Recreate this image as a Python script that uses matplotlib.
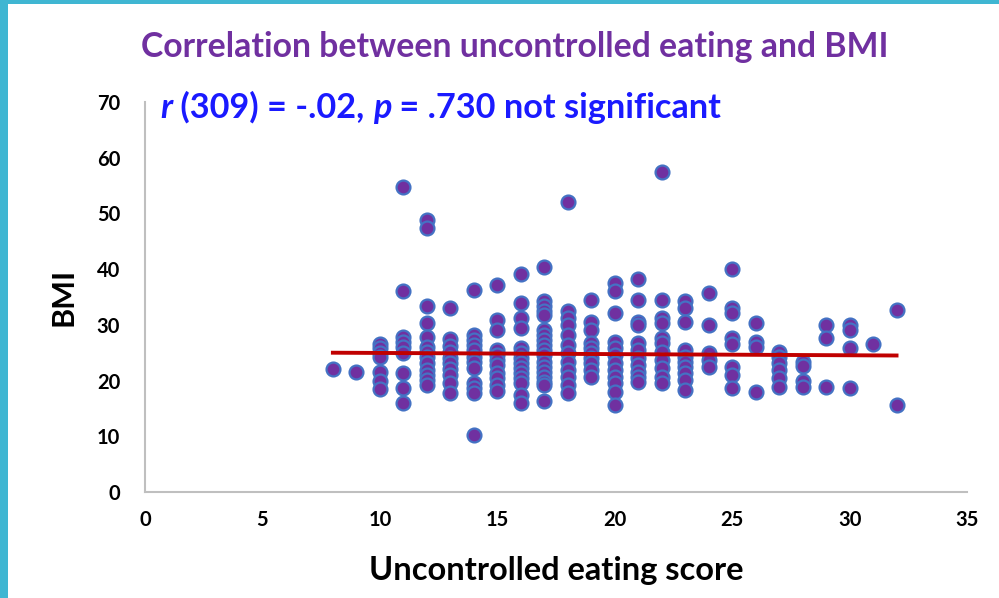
import matplotlib.pyplot as plt
from matplotlib.patches import Rectangle

plt.rcParams['font.family'] = ['Lato', 'DejaVu Sans']

# uncontrolled eating score (x) and the BMI values read for each score
scores = [8, 9, 10, 11, 12, 13, 14, 15, 16, 17, 18, 19, 20,
          21, 22, 23, 24, 25, 26, 27, 28, 29, 30, 31, 32]
bmi = [
    [22.0],
    [21.5],
    [26.5, 25.8, 25.0, 24.2, 21.5, 20.0, 18.5],
    [54.7, 36.0, 27.8, 27.0, 26.0, 25.0, 21.4, 18.7, 16.0],
    [48.8, 47.4, 33.4, 30.4, 27.8, 26.0, 25.2, 24.3, 23.1, 21.9, 21.0, 20.1, 19.2],
    [33.0, 27.4, 26.2, 25.2, 24.0, 23.1, 22.0, 21.0, 19.5, 17.8],
    [36.3, 28.2, 27.3, 26.4, 25.5, 24.3, 23.4, 22.2, 19.5, 18.6, 17.7, 10.2],
    [37.2, 30.9, 29.1, 25.5, 24.6, 23.7, 22.8, 21.3, 20.4, 19.2, 18.2],
    [39.1, 34.0, 31.2, 29.4, 25.8, 24.9, 24.0, 23.1, 22.2, 21.3, 20.4, 19.5, 17.4, 15.9],
    [40.4, 34.2, 33.3, 32.4, 31.8, 29.1, 28.2, 27.3, 26.4, 25.5, 24.6, 23.4,
     22.5, 21.6, 20.7, 19.8, 19.2, 16.4],
    [52.0, 32.4, 31.2, 30.0, 28.2, 26.4, 24.9, 23.4, 21.9, 20.7, 19.2, 17.7],
    [34.5, 30.6, 29.1, 26.7, 25.8, 24.9, 24.0, 23.1, 21.9, 20.7],
    [37.5, 36.0, 32.1, 27.0, 25.8, 24.6, 23.1, 21.9, 20.7, 19.5, 18.0, 15.6],
    [38.2, 34.5, 30.6, 30.0, 26.7, 25.5, 24.0, 22.8, 21.6, 20.7, 19.8],
    [57.4, 34.5, 31.2, 30.3, 27.6, 26.7, 25.2, 23.7, 22.2, 20.7, 19.5],
    [34.2, 33.0, 30.6, 25.5, 24.3, 23.4, 22.5, 21.3, 20.1, 18.3],
    [35.8, 30.0, 24.9, 23.7, 22.5],
    [40.0, 33.0, 32.1, 27.7, 26.5, 22.5, 21.0, 18.6],
    [30.3, 27.0, 26.1, 17.9],
    [25.2, 24.3, 23.1, 21.9, 20.4, 18.9],
    [23.3, 22.6, 20.0, 18.8],
    [29.9, 27.6, 18.8],
    [30.0, 29.0, 25.9, 18.6],
    [26.5],
    [32.7, 15.6],
]

# linear trend line endpoints
trend_x = [8, 32]
trend_y = [25.0, 24.5]

x_ticks = [0, 5, 10, 15, 20, 25, 30, 35]
y_ticks = [0, 10, 20, 30, 40, 50, 60, 70]

xs = []
ys = []
for s, vals in zip(scores, bmi):
    for v in vals:
        xs.append(s)
        ys.append(v)

fig = plt.figure(figsize=(9.99, 5.98), dpi=100)
fig.patch.set_facecolor('white')

# slide frame in teal on the left and top
fig.patches.append(Rectangle((0, 0), 8 / 999, 1, transform=fig.transFigure,
                             facecolor='#3fb6d2', edgecolor='none'))
fig.patches.append(Rectangle((0, 1 - 4 / 598), 1, 4 / 598, transform=fig.transFigure,
                             facecolor='#3fb6d2', edgecolor='none'))

ax = fig.add_axes([145 / 999, (598 - 492) / 598, 822 / 999, 390 / 598])
ax.scatter(xs, ys, s=100, color='#7030a0', edgecolors='#4472c4', linewidths=1.6, zorder=2)
ax.plot(trend_x, trend_y, color='#c00000', lw=2.8, zorder=3)

ax.set_xlim(0, 35)
ax.set_ylim(0, 70)
ax.set_xticks(x_ticks)
ax.set_yticks(y_ticks)
ax.tick_params(length=0, labelsize=14.5)
ax.tick_params(axis='y', pad=18)
ax.tick_params(axis='x', pad=13)
for lab in ax.get_xticklabels() + ax.get_yticklabels():
    lab.set_fontweight('bold')

for side in ['top', 'right']:
    ax.spines[side].set_visible(False)
for side in ['left', 'bottom']:
    ax.spines[side].set_color('#bfbfbf')
    ax.spines[side].set_linewidth(1.5)

ax.set_xlabel('Uncontrolled eating score', fontsize=23.5, fontweight='bold', labelpad=19)
ax.set_ylabel('BMI', fontsize=22, fontweight='bold', labelpad=14)

fig.text(0.515, 1 - 47 / 598, 'Correlation between uncontrolled eating and BMI',
         ha='center', va='center', fontsize=24.3, fontweight='bold', color='#7030a0')

# statistics line, r and p in italics
blue = '#1a1aff'
parts = [('r', 'italic'), (' (309) = -.02, ', 'normal'), ('p', 'italic'),
         (' = .730 not significant', 'normal')]
t = fig.text(160 / 999, 1 - 108 / 598, parts[0][0], ha='left', va='center',
             fontsize=24.7, fontweight='bold', style=parts[0][1], color=blue)
for txt, st in parts[1:]:
    t = ax.annotate(txt, xy=(1, 0), xycoords=t, ha='left', va='bottom',
                    fontsize=24.7, fontweight='bold', style=st, color=blue,
                    annotation_clip=False)

fig.savefig('out.png', dpi=100)
